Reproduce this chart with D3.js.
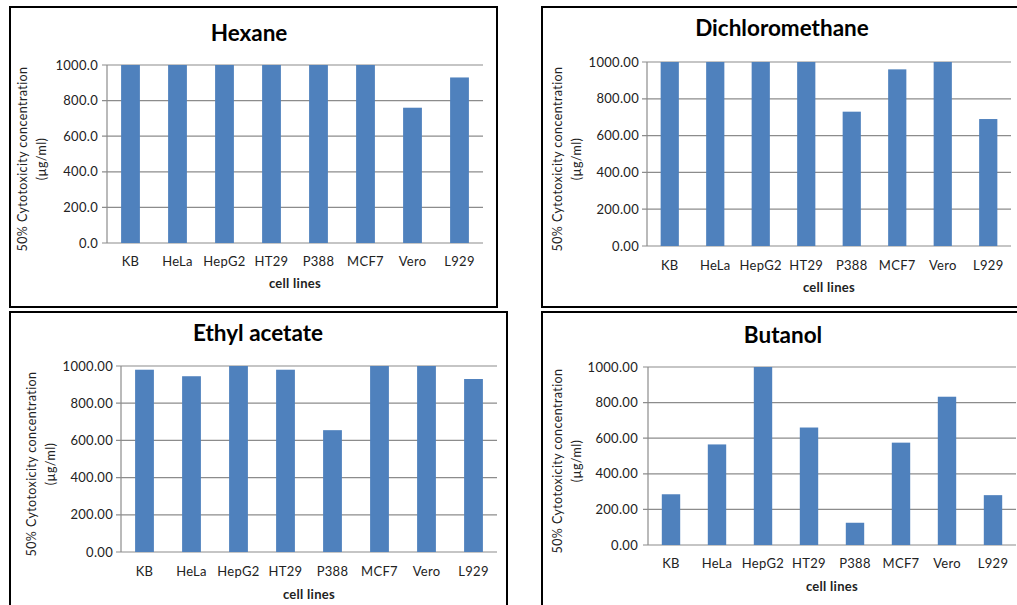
<!DOCTYPE html>
<html>
<head>
<meta charset="utf-8">
<script src="https://cdn.jsdelivr.net/npm/d3@7"></script>
<style>
  body { margin: 0; background: #fff; }
  text { font-family: Lato, "Open Sans", sans-serif; }
</style>
</head>
<body>
<div id="vis"></div>
<script>
var cellLines = ["KB", "HeLa", "HepG2", "HT29", "P388", "MCF7", "Vero", "L929"];
var yTicks = [0, 200, 400, 600, 800, 1000];

var hexane = [1000, 1000, 1000, 1000, 1000, 1000, 760, 930];
var dichloromethane = [1000, 1000, 1000, 1000, 730, 960, 1000, 690];
var ethylAcetate = [980, 945, 1000, 980, 655, 1000, 1000, 930];
var butanol = [285, 565, 1000, 660, 125, 575, 833, 280];

var width = 1017, height = 605;

var svg = d3.select("#vis").append("svg")
    .attr("width", width)
    .attr("height", height);

// one panel per solvent, box + plot area in page pixels
var panels = [
  {title: "Hexane", values: hexane, decimals: 1,
   box: [10, 7, 497, 307], plot: [107, 65, 483, 243], titleY: 41, titleX: 249,
   tickX: 98, ytitleX: 23, catY: 261, xtitleY: 288},
  {title: "Dichloromethane", values: dichloromethane, decimals: 2,
   box: [542, 7, 1030, 307], plot: [647, 62, 1011, 246], titleY: 36, titleX: 782,
   tickX: 639, ytitleX: 558, catY: 265, xtitleY: 292},
  {title: "Ethyl acetate", values: ethylAcetate, decimals: 2,
   box: [10, 312, 507, 620], plot: [121, 366, 497, 552], titleY: 341, titleX: 258,
   tickX: 113, ytitleX: 32, catY: 571, xtitleY: 599},
  {title: "Butanol", values: butanol, decimals: 2,
   box: [542, 312, 1030, 620], plot: [648, 367, 1016, 545], titleY: 343, titleX: 783,
   tickX: 638, ytitleX: 558, catY: 563, xtitleY: 591}
];

panels.forEach(function(p) {
  var g = svg.append("g");

  g.append("rect")
      .attr("x", p.box[0]).attr("y", p.box[1])
      .attr("width", p.box[2] - p.box[0]).attr("height", p.box[3] - p.box[1])
      .attr("fill", "#fff")
      .attr("stroke", "#000")
      .attr("stroke-width", 2);

  var x = d3.scaleBand()
      .domain(cellLines)
      .range([p.plot[0], p.plot[2]])
      .paddingInner(0.6)
      .paddingOuter(0.3);

  var y = d3.scaleLinear()
      .domain([0, 1000])
      .range([p.plot[3], p.plot[1]]);

  // gridlines
  g.selectAll(".grid").data(yTicks).enter()
      .append("line")
      .attr("x1", p.plot[0] - 5)
      .attr("x2", p.plot[2])
      .attr("y1", function(d) { return y(d); })
      .attr("y2", function(d) { return y(d); })
      .attr("stroke", "#8c8c8c")
      .attr("stroke-width", 1.2);

  g.append("line")
      .attr("x1", p.plot[0]).attr("x2", p.plot[0])
      .attr("y1", p.plot[1]).attr("y2", p.plot[3])
      .attr("stroke", "#8c8c8c")
      .attr("stroke-width", 1.2);

  g.selectAll(".bar").data(p.values).enter()
      .append("rect")
      .attr("x", function(d, i) { return x(cellLines[i]); })
      .attr("width", x.bandwidth())
      .attr("y", function(d) { return y(d); })
      .attr("height", function(d) { return y(0) - y(d); })
      .attr("fill", "#4f81bd");

  g.selectAll(".ytick").data(yTicks).enter()
      .append("text")
      .attr("x", p.tickX)
      .attr("y", function(d) { return y(d); })
      .attr("dy", "0.35em")
      .attr("text-anchor", "end")
      .attr("font-size", 13)
      .attr("letter-spacing", 0.3)
      .attr("fill", "#222")
      .text(function(d) { return d.toFixed(p.decimals); });

  g.selectAll(".xtick").data(cellLines).enter()
      .append("text")
      .attr("x", function(d) { return x(d) + x.bandwidth() / 2; })
      .attr("y", p.catY)
      .attr("dy", "0.35em")
      .attr("text-anchor", "middle")
      .attr("font-size", 13)
      .attr("letter-spacing", 0.3)
      .attr("fill", "#222")
      .text(function(d) { return d; });

  g.append("text")
      .attr("x", (p.plot[0] + p.plot[2]) / 2)
      .attr("y", p.xtitleY)
      .attr("text-anchor", "middle")
      .attr("font-size", 13)
      .attr("letter-spacing", 0.3)
      .attr("font-weight", "bold")
      .attr("fill", "#222")
      .text("cell lines");

  g.append("text")
      .attr("x", p.titleX)
      .attr("y", p.titleY)
      .attr("text-anchor", "middle")
      .attr("font-size", 22.5)
      .attr("font-weight", "bold")
      .attr("fill", "#000")
      .text(p.title);

  var cy = (p.plot[1] + p.plot[3]) / 2 + 5;
  var yt = g.append("text")
      .attr("transform", "translate(" + p.ytitleX + "," + cy + ") rotate(-90)")
      .attr("text-anchor", "middle")
      .attr("font-size", 12.5)
      .attr("letter-spacing", 0.4)
      .attr("fill", "#222");
  yt.append("tspan").attr("x", 0).attr("dy", "0.35em").text("50% Cytotoxicity concentration");
  yt.append("tspan").attr("x", 0).attr("dy", 19).text("(µg/ml)");
});
</script>
</body>
</html>
